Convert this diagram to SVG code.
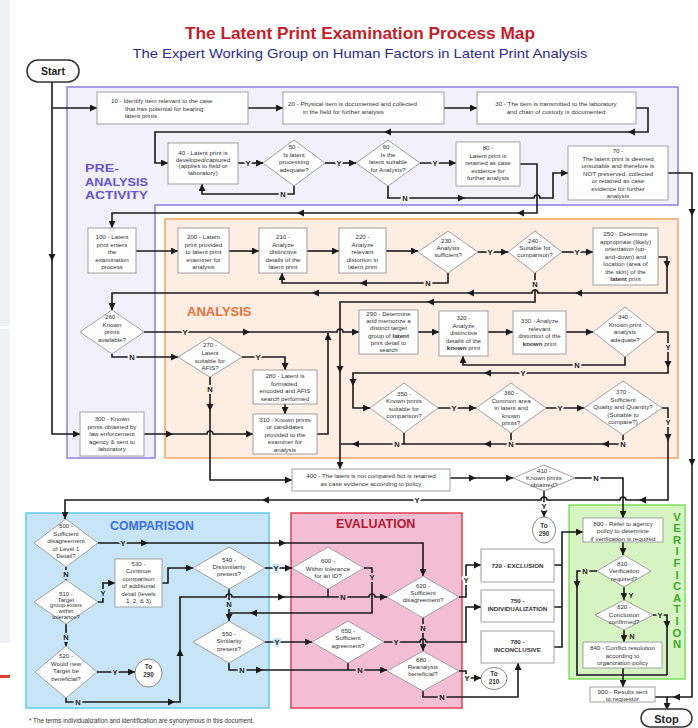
<svg xmlns="http://www.w3.org/2000/svg" width="698" height="728" viewBox="0 0 698 728">
<style>
text{font-family:"Liberation Sans",Arial,sans-serif}
.t{font-size:6.2px;fill:#333;text-anchor:middle}
.k{font-weight:bold}
.b{fill:#fff;stroke:#a0a0a0;stroke-width:1}
.c{fill:none;stroke:#1a1a1a;stroke-width:1.6}
.ce{fill:none;stroke:#1a1a1a;stroke-width:1.6;marker-end:url(#m)}
.lb{font-size:7.5px;font-weight:bold;fill:#1a1a1a;text-anchor:middle;paint-order:stroke;stroke-width:4px;stroke-linejoin:round}
.bw{stroke:#fff}.bp{stroke:#f1f0fb}.ba{stroke:#fdede2}.bc{stroke:#c8e5f7}.be{stroke:#f3bdd4}.bv{stroke:#d7f5c3}
.ct{font-size:6.4px;font-weight:bold;fill:#333;text-anchor:middle}
.term{fill:#fff;stroke:#333;stroke-width:1.6}
.vl{font-size:11.3px;font-weight:bold;fill:#3daa2e;text-anchor:middle}
.pa{font-size:11.6px;font-weight:bold;fill:#6655cc}
</style>
<defs>
<marker id="m" viewBox="0 0 10 10" refX="10" refY="5" markerWidth="7" markerHeight="7" markerUnits="userSpaceOnUse" orient="auto"><path d="M0,0L10,5L0,10z" fill="#1a1a1a"/></marker>
<path id="ar" d="M0,0L-7,-3.5L-7,3.5z" fill="#1a1a1a"/>
</defs>
<rect width="698" height="728" fill="#fff"/>
<rect x="0" y="0" width="10" height="643" fill="#eef1f5"/>
<rect x="0" y="326" width="10" height="3" fill="#fff"/>
<rect x="0" y="675" width="10" height="3" fill="#e04030"/>

<text x="360" y="39" text-anchor="middle" font-size="17" font-weight="bold" fill="#c41e2a" textLength="350" lengthAdjust="spacingAndGlyphs">The Latent Print Examination Process Map</text>
<text x="360" y="58" text-anchor="middle" font-size="13.5" fill="#2b2b8c" textLength="455" lengthAdjust="spacingAndGlyphs">The Expert Working Group on Human Factors in Latent Print Analysis</text>

<g id="regions">
<polygon points="67,87 678,87 678,205 155,205 155,458 67,458" fill="#f1f0fb" stroke="#8b80df" stroke-width="1.5"/>
<rect x="165" y="219" width="513" height="239" fill="#fdede2" stroke="#f2a466" stroke-width="1.5"/>
<rect x="26" y="513" width="243" height="195" fill="#c8e5f7" stroke="#62cbea" stroke-width="1.5"/>
<rect x="291" y="513" width="171" height="195" fill="#f3bdd4" stroke="#e5404c" stroke-width="1.5"/>
<rect x="569" y="505" width="116" height="174" fill="#d7f5c3" stroke="#7fe05a" stroke-width="1.5"/>
<text class="pa" x="85" y="172" textLength="34" lengthAdjust="spacingAndGlyphs">PRE-</text>
<text class="pa" x="85" y="185.5" textLength="63" lengthAdjust="spacingAndGlyphs">ANALYSIS</text>
<text class="pa" x="85" y="199" textLength="63" lengthAdjust="spacingAndGlyphs">ACTIVITY</text>
<text x="187" y="316" font-size="13" font-weight="bold" fill="#e8703a">ANALYSIS</text>
<text x="110" y="530" font-size="12.3" font-weight="bold" fill="#3a6fe0">COMPARISON</text>
<text x="336" y="528" font-size="12.5" font-weight="bold" fill="#b01830">EVALUATION</text>
<text class="vl" x="677" y="520.5">V</text>
<text class="vl" x="677" y="532.1">E</text>
<text class="vl" x="677" y="543.7">R</text>
<text class="vl" x="677" y="555.3">I</text>
<text class="vl" x="677" y="566.9">F</text>
<text class="vl" x="677" y="578.5">I</text>
<text class="vl" x="677" y="590.1">C</text>
<text class="vl" x="677" y="601.7">A</text>
<text class="vl" x="677" y="613.3">T</text>
<text class="vl" x="677" y="624.9">I</text>
<text class="vl" x="677" y="636.5">O</text>
<text class="vl" x="677" y="648.1">N</text>
</g>

<g id="connectors">
<path class="ce" d="M52,82V434H80"/>
<path class="ce" d="M52,108H97"/>
<path class="ce" d="M248,108H283"/>
<path class="ce" d="M444,108H477"/>
<path class="ce" d="M636,108H648V132H155V163H168"/>
<path class="ce" d="M238,163H263"/>
<path class="ce" d="M325,163H356"/>
<path class="ce" d="M420,163H456"/>
<path class="ce" d="M294,186V194H202V184"/>
<path class="ce" d="M388,186V198H534a3,3 0 0 1 6,0H553V173H568"/>
<path class="ce" d="M520,164H537V213H112V228"/>
<path class="c" d="M668,173H692V697H667"/>
<path class="ce" d="M655,697H667V710"/>
<path class="ce" d="M136,251H178"/>
<path class="ce" d="M229,251H259"/>
<path class="ce" d="M307,251H339"/>
<path class="ce" d="M386,251H418"/>
<path class="ce" d="M448,273V283H282V273"/>
<path class="ce" d="M478,252H508"/>
<path class="ce" d="M562,252H593"/>
<path class="ce" d="M658,257H667V293H538a3,3 0 0 0 -6,0H112V310"/>
<path class="ce" d="M535,273V302H340V469"/>
<path class="ce" d="M144,332H337a3,3 0 0 1 6,0H359"/>
<path class="ce" d="M112,354V357H178"/>
<path class="ce" d="M242,357H285V370"/>
<path class="ce" d="M210,377V480H292"/>
<path class="ce" d="M285,404V414"/>
<path class="ce" d="M144,434H207a3,3 0 0 1 6,0H253"/>
<path class="ce" d="M317,434H328V333"/>
<path class="ce" d="M418,332H439"/>
<path class="ce" d="M488,332H513"/>
<path class="ce" d="M566,332H593"/>
<path class="ce" d="M625,357V365H463V356"/>
<path class="ce" d="M657,332H668V373H353V408H370"/>
<path class="ce" d="M438,408H476"/>
<path class="ce" d="M546,408H584"/>
<path class="c" d="M623,435V444H340"/>
<path class="c" d="M511,433V444"/>
<path class="c" d="M404,433V444"/>
<path class="ce" d="M662,408H668V500H626a3,3 0 0 0 -6,0H547a3,3 0 0 0 -6,0H65V519"/>
<path class="ce" d="M450,478H513"/>
<path class="ce" d="M575,478H623V518"/>
<path class="ce" d="M544,491V517"/>
<path class="ce" d="M98,543H423V576"/>
<path class="ce" d="M66,567V580"/>
<path class="ce" d="M98,602H103V583H115"/>
<path class="ce" d="M66,624V646"/>
<path class="ce" d="M97,672H135"/>
<path class="ce" d="M162,583H168V568H193"/>
<path class="ce" d="M265,568H292"/>
<path class="ce" d="M229,589V621"/>
<path class="c" d="M364,568H372V613H229"/>
<path class="ce" d="M66,698V702H180V597H226a3,3 0 0 1 6,0H369a3,3 0 0 1 6,0H387"/>
<path class="c" d="M328,589V597"/>
<path class="ce" d="M265,642H312"/>
<path class="ce" d="M229,663V670H387"/>
<path class="c" d="M348,663V670"/>
<path class="ce" d="M384,642H420a3,3 0 0 1 6,0H466V607H481"/>
<path class="ce" d="M459,597H466V565H481"/>
<path class="ce" d="M423,618V651"/>
<path class="ce" d="M459,671H466V678H481"/>
<path class="ce" d="M423,691V697H518V663"/>
<path class="c" d="M554,565H562M554,607H562"/>
<path class="ce" d="M554,647H562V532H583"/>
<path class="ce" d="M623,542V555"/>
<path class="c" d="M597,571H577V675H667"/>
<path class="ce" d="M624,587V600"/>
<path class="c" d="M653,615H667V675"/>
<path class="ce" d="M624,630V642"/>
<path class="ce" d="M623,668V687"/>

<use href="#ar" transform="translate(52,261) rotate(90)"/>
<use href="#ar" transform="translate(628,132) rotate(180)"/>
<use href="#ar" transform="translate(384,132) rotate(180)"/>
<use href="#ar" transform="translate(465,198)"/>
<use href="#ar" transform="translate(517,213) rotate(180)"/>
<use href="#ar" transform="translate(297,213) rotate(180)"/>
<use href="#ar" transform="translate(692,216) rotate(90)"/>
<use href="#ar" transform="translate(692,466) rotate(90)"/>
<use href="#ar" transform="translate(673,697) rotate(180)"/>
<use href="#ar" transform="translate(360,283) rotate(180)"/>
<use href="#ar" transform="translate(667,268) rotate(90)"/>
<use href="#ar" transform="translate(575,293) rotate(180)"/>
<use href="#ar" transform="translate(467,293) rotate(180)"/>
<use href="#ar" transform="translate(312,293) rotate(180)"/>
<use href="#ar" transform="translate(427,302) rotate(180)"/>
<use href="#ar" transform="translate(340,373) rotate(90)"/>
<use href="#ar" transform="translate(250,332)"/>
<use href="#ar" transform="translate(210,411) rotate(90)"/>
<use href="#ar" transform="translate(173,434)"/>
<use href="#ar" transform="translate(668,368) rotate(90)"/>
<use href="#ar" transform="translate(484,373) rotate(180)"/>
<use href="#ar" transform="translate(353,386) rotate(90)"/>
<use href="#ar" transform="translate(602,444) rotate(180)"/>
<use href="#ar" transform="translate(484,444) rotate(180)"/>
<use href="#ar" transform="translate(352,444) rotate(180)"/>
<use href="#ar" transform="translate(668,441) rotate(90)"/>
<use href="#ar" transform="translate(639,500) rotate(180)"/>
<use href="#ar" transform="translate(262,500) rotate(180)"/>
<use href="#ar" transform="translate(476,478)"/>
<use href="#ar" transform="translate(148,543)"/>
<use href="#ar" transform="translate(286,543)"/>
<use href="#ar" transform="translate(250,613) rotate(180)"/>
<use href="#ar" transform="translate(175,702)"/>
<use href="#ar" transform="translate(180,649) rotate(-90)"/>
<use href="#ar" transform="translate(285,597)"/>
<use href="#ar" transform="translate(263,670)"/>
<use href="#ar" transform="translate(577,588) rotate(90)"/>
<use href="#ar" transform="translate(667,628) rotate(90)"/>

<text class="lb bp" x="248" y="165.6">Y</text>
<text class="lb bp" x="339" y="165.6">Y</text>
<text class="lb bp" x="435" y="165.6">Y</text>
<text class="lb bp" x="283" y="196.6">N</text>
<text class="lb bp" x="405" y="200.6">N</text>
<text class="lb ba" x="428" y="285.6">N</text>
<text class="lb ba" x="490" y="254.6">Y</text>
<text class="lb ba" x="577" y="254.6">Y</text>
<text class="lb ba" x="535" y="286.7">N</text>
<text class="lb ba" x="185" y="334.6">Y</text>
<text class="lb bp" x="132" y="359.6">N</text>
<text class="lb ba" x="258" y="359.6">Y</text>
<text class="lb ba" x="210" y="391.7">N</text>
<text class="lb ba" x="577" y="367.6">N</text>
<text class="lb ba" x="668" y="349.7">Y</text>
<text class="lb ba" x="523" y="375.6">Y</text>
<text class="lb ba" x="454" y="410.6">Y</text>
<text class="lb ba" x="560" y="410.6">Y</text>
<text class="lb ba" x="397" y="446.6">N</text>
<text class="lb ba" x="511" y="446.6">N</text>
<text class="lb ba" x="623" y="446.6">N</text>
<text class="lb ba" x="668" y="424.7">Y</text>
<text class="lb bw" x="417" y="502.6">Y</text>
<text class="lb bw" x="596" y="480.6">N</text>
<text class="lb bw" x="544" y="508.7">Y</text>
<text class="lb bc" x="123" y="545.6">Y</text>
<text class="lb bc" x="66" y="576.7">N</text>
<text class="lb bc" x="103" y="595.7">Y</text>
<text class="lb bc" x="66" y="639.7">N</text>
<text class="lb bc" x="115" y="674.6">Y</text>
<text class="lb bc" x="78" y="704.6">N</text>
<text class="lb bc" x="229" y="606.7">N</text>
<text class="lb bc" x="276" y="570.6">Y</text>
<text class="lb bc" x="277" y="644.6">Y</text>
<text class="lb bc" x="242" y="672.6">N</text>
<text class="lb be" x="372" y="579.7">Y</text>
<text class="lb be" x="343" y="599.6">N</text>
<text class="lb be" x="396" y="644.6">Y</text>
<text class="lb be" x="360" y="672.6">N</text>
<text class="lb be" x="423" y="630.7">N</text>
<text class="lb be" x="442" y="699.6">N</text>
<text class="lb bw" x="466" y="582.7">Y</text>
<text class="lb bw" x="467" y="680.6">Y</text>
<text class="lb bv" x="585" y="573.6">N</text>
<text class="lb bv" x="631" y="597.7">Y</text>
<text class="lb bv" x="660" y="617.6">Y</text>
<text class="lb bv" x="632" y="638.7">N</text>
</g>

<g id="start"><rect class="term" x="27" y="60" width="52" height="22" rx="11"/><text x="53" y="75" text-anchor="middle" font-size="10.5" font-weight="bold" fill="#222">Start</text></g>
<g id="stop"><rect class="term" x="641" y="709" width="51" height="18" rx="9"/><text x="666.5" y="722.5" text-anchor="middle" font-size="11" font-weight="bold" fill="#222">Stop</text></g>

<g id="n10"><rect class="b" x="97" y="92" width="151" height="32"/><text class="t" style="text-anchor:start"><tspan x="111" y="103">10 - Identify item relevant to the case</tspan><tspan x="125" y="110.5">that has potential for bearing</tspan><tspan x="125" y="118">latent prints</tspan></text></g>
<g id="n20"><rect class="b" x="283" y="92" width="161" height="32"/><text class="t" style="text-anchor:start"><tspan x="288" y="106">20 - Physical item is documented and collected</tspan><tspan x="303" y="113.5">in the field for further analysis</tspan></text></g>
<g id="n30"><rect class="b" x="477" y="92" width="159" height="32"/><text class="t"><tspan x="556" y="106">30 - The item is transmitted to the laboratory</tspan><tspan x="556" y="113.5">and chain of custody is documented</tspan></text></g>
<g id="n40"><rect class="b" x="168" y="143" width="70" height="41"/><text class="t"><tspan x="203" y="155">40 - Latent print is</tspan><tspan x="203" y="161.5">developed/captured</tspan><tspan x="203" y="168">(applies to field or</tspan><tspan x="203" y="174.5">laboratory)</tspan></text></g>
<g id="n50"><polygon class="b" points="294,140 325,163 294,186 263,163"/><text class="t"><tspan x="294" y="149">50 -</tspan><tspan x="294" y="156.5">Is latent</tspan><tspan x="294" y="164">processing</tspan><tspan x="294" y="171.5">adequate?</tspan></text></g>
<g id="n60"><polygon class="b" points="388,140 420,163 388,186 356,163"/><text class="t"><tspan x="388" y="149">60 -</tspan><tspan x="388" y="156.5">Is the</tspan><tspan x="388" y="164">latent suitable</tspan><tspan x="388" y="171.5">for Analysis?</tspan></text></g>
<g id="n80"><rect class="b" x="456" y="142" width="64" height="44"/><text class="t"><tspan x="488" y="150">80 -</tspan><tspan x="488" y="157.5">Latent print is</tspan><tspan x="488" y="165">retained as case</tspan><tspan x="488" y="172.5">evidence for</tspan><tspan x="488" y="180">further analysis</tspan></text></g>
<g id="n70"><rect class="b" x="568" y="146" width="100" height="54"/><text class="t"><tspan x="618" y="153">70 -</tspan><tspan x="618" y="160.5">The latent print is deemed</tspan><tspan x="618" y="168">unsuitable and therefore is</tspan><tspan x="618" y="175.5">NOT preserved, collected</tspan><tspan x="618" y="183">or retained as case</tspan><tspan x="618" y="190.5">evidence for further</tspan><tspan x="618" y="198">analysis</tspan></text></g>
<g id="n100"><rect class="b" x="88" y="228" width="48" height="45"/><text class="t"><tspan x="112" y="239">100 - Latent</tspan><tspan x="112" y="246.5">print enters</tspan><tspan x="112" y="254">the</tspan><tspan x="112" y="261.5">examination</tspan><tspan x="112" y="269">process</tspan></text></g>
<g id="n200"><rect class="b" x="178" y="228" width="51" height="45"/><text class="t"><tspan x="203.5" y="239">200 - Latent</tspan><tspan x="203.5" y="246.5">print provided</tspan><tspan x="203.5" y="254">to latent print</tspan><tspan x="203.5" y="261.5">examiner for</tspan><tspan x="203.5" y="269">analysis</tspan></text></g>
<g id="n210"><rect class="b" x="259" y="228" width="48" height="45"/><text class="t"><tspan x="283" y="239">210 -</tspan><tspan x="283" y="246.5">Analyze</tspan><tspan x="283" y="254">distinctive</tspan><tspan x="283" y="261.5">details of the</tspan><tspan x="283" y="269">latent print</tspan></text></g>
<g id="n220"><rect class="b" x="339" y="228" width="47" height="45"/><text class="t"><tspan x="362.5" y="239">220 -</tspan><tspan x="362.5" y="246.5">Analyze</tspan><tspan x="362.5" y="254">relevant</tspan><tspan x="362.5" y="261.5">distortion in</tspan><tspan x="362.5" y="269">latent print</tspan></text></g>
<g id="n230"><polygon class="b" points="448,231 478,252 448,273 418,252"/><text class="t"><tspan x="448" y="243">230 -</tspan><tspan x="448" y="250">Analysis</tspan><tspan x="448" y="257">sufficient?</tspan></text></g>
<g id="n240"><polygon class="b" points="535,231 562,252 535,273 508,252"/><text class="t"><tspan x="535" y="242.5">240 -</tspan><tspan x="535" y="249.7">Suitable for</tspan><tspan x="535" y="257">comparison?</tspan></text></g>
<g id="n250"><rect class="b" x="593" y="228" width="65" height="57"/><text class="t"><tspan x="625.5" y="236">250 - Determine</tspan><tspan x="625.5" y="243.5">appropriate (likely)</tspan><tspan x="625.5" y="251">orientation (up-</tspan><tspan x="625.5" y="258.5">and-down) and</tspan><tspan x="625.5" y="266">location (area of</tspan><tspan x="625.5" y="273.5">the skin) of the</tspan><tspan x="625.5" y="281"><tspan class="k">latent</tspan> print</tspan></text></g>
<g id="n260"><polygon class="b" points="112,310 144,332 112,354 80,332"/><text class="t"><tspan x="112" y="319">260 -</tspan><tspan x="112" y="326.5">Known</tspan><tspan x="112" y="334">prints</tspan><tspan x="112" y="341.5">available?</tspan></text></g>
<g id="n270"><polygon class="b" points="210,337 242,357 210,377 178,357"/><text class="t"><tspan x="210" y="347">270 -</tspan><tspan x="210" y="355">Latent</tspan><tspan x="210" y="362.5">suitable for</tspan><tspan x="210" y="370">AFIS?</tspan></text></g>
<g id="n280"><rect class="b" x="253" y="370" width="64" height="34"/><text class="t"><tspan x="285" y="378">280 - Latent is</tspan><tspan x="285" y="385.5">formatted,</tspan><tspan x="285" y="393">encoded and AFIS</tspan><tspan x="285" y="400.5">search performed</tspan></text></g>
<g id="n290"><rect class="b" x="359" y="310" width="59" height="44"/><text class="t"><tspan x="388.5" y="316">290 - Determine</tspan><tspan x="388.5" y="323.2">and memorize a</tspan><tspan x="388.5" y="330.4">distinct target</tspan><tspan x="388.5" y="337.6">group of <tspan class="k">latent</tspan></tspan><tspan x="388.5" y="344.8">print detail to</tspan><tspan x="388.5" y="352">search</tspan></text></g>
<g id="n300"><rect class="b" x="80" y="412" width="64" height="44"/><text class="t"><tspan x="112" y="421">300 - Known</tspan><tspan x="112" y="428.5">prints obtained by</tspan><tspan x="112" y="436">law enforcement</tspan><tspan x="112" y="443.5">agency &amp; sent to</tspan><tspan x="112" y="451">laboratory</tspan></text></g>
<g id="n310"><rect class="b" x="253" y="414" width="64" height="40"/><text class="t"><tspan x="285" y="421.5">310 - Known prints</tspan><tspan x="285" y="429">or candidates</tspan><tspan x="285" y="436.5">provided to the</tspan><tspan x="285" y="444">examiner for</tspan><tspan x="285" y="451.5">analysis</tspan></text></g>
<g id="n320"><rect class="b" x="439" y="311" width="49" height="45"/><text class="t"><tspan x="463.5" y="320">320 -</tspan><tspan x="463.5" y="327.5">Analyze</tspan><tspan x="463.5" y="335">distinctive</tspan><tspan x="463.5" y="342.5">details of the</tspan><tspan x="463.5" y="350"><tspan class="k">known</tspan> print</tspan></text></g>
<g id="n330"><rect class="b" x="513" y="311" width="53" height="43"/><text class="t"><tspan x="539.5" y="323">330 - Analyze</tspan><tspan x="539.5" y="330.5">relevant</tspan><tspan x="539.5" y="338">distortion of the</tspan><tspan x="539.5" y="345.5"><tspan class="k">known</tspan> print</tspan></text></g>
<g id="n340"><polygon class="b" points="625,307 657,332 625,357 593,332"/><text class="t"><tspan x="625" y="319">340 -</tspan><tspan x="625" y="326.5">Known print</tspan><tspan x="625" y="334">analysis</tspan><tspan x="625" y="341.5">adequate?</tspan></text></g>
<g id="n350"><polygon class="b" points="404,383 438,408 404,433 370,408"/><text class="t"><tspan x="404" y="395.5">350 -</tspan><tspan x="404" y="403">Known prints</tspan><tspan x="404" y="410.5">suitable for</tspan><tspan x="404" y="418">comparison?</tspan></text></g>
<g id="n360"><polygon class="b" points="511,383 546,408 511,433 476,408"/><text class="t"><tspan x="511" y="395">360 -</tspan><tspan x="511" y="402.5">Common area</tspan><tspan x="511" y="410">in latent and</tspan><tspan x="511" y="417.5">known</tspan><tspan x="511" y="425">prints?</tspan></text></g>
<g id="n370"><polygon class="b" points="623,381 662,408 623,435 584,408"/><text class="t"><tspan x="623" y="394">370 -</tspan><tspan x="623" y="401.5">Sufficient</tspan><tspan x="623" y="409">Quality and Quantity?</tspan><tspan x="623" y="416.5">(Suitable to</tspan><tspan x="623" y="424">compare?)</tspan></text></g>
<g id="n400"><rect class="b" x="292" y="469" width="158" height="22"/><text class="t"><tspan x="371" y="478">400 - The latent is not compared but is retained</tspan><tspan x="371" y="486">as case evidence according to policy</tspan></text></g>
<g id="n410"><polygon class="b" points="544,465 575,478 544,491 513,478"/><text class="t"><tspan x="544" y="472.5">410 -</tspan><tspan x="544" y="479.8">Known prints</tspan><tspan x="544" y="487">obtained?</tspan></text></g>
<g id="n500"><polygon class="b" points="66,519 98,543 66,567 34,543"/><text class="t"><tspan x="66" y="528">500 -</tspan><tspan x="66" y="535.5">Sufficient</tspan><tspan x="66" y="543">disagreement</tspan><tspan x="66" y="550.5">of Level 1</tspan><tspan x="66" y="558">Detail?</tspan></text></g>
<g id="n510"><polygon class="b" points="66,580 98,602 66,624 34,602"/><text class="t" style="font-size:5.9px"><tspan x="66" y="596">510 -</tspan><tspan x="66" y="601.7">Target</tspan><tspan x="66" y="607.4">group exists</tspan><tspan x="66" y="613.1">within</tspan><tspan x="66" y="618.8">tolerance?</tspan></text></g>
<g id="n520"><polygon class="b" points="66,646 97,672 66,698 35,672"/><text class="t"><tspan x="66" y="658">520 -</tspan><tspan x="66" y="665.5">Would new</tspan><tspan x="66" y="673">Target be</tspan><tspan x="66" y="680.5">beneficial?</tspan></text></g>
<g id="to290a"><ellipse cx="148.5" cy="673" rx="13.5" ry="14" fill="#fff" stroke="#888" stroke-width="1"/><text class="ct"><tspan x="148.5" y="669">To</tspan><tspan x="148.5" y="677">290</tspan></text></g>
<g id="n530"><rect class="b" x="115" y="559" width="47" height="48"/><text class="t"><tspan x="138.5" y="565.5">530 -</tspan><tspan x="138.5" y="573">Continue</tspan><tspan x="138.5" y="580.5">comparison</tspan><tspan x="138.5" y="588">of additional</tspan><tspan x="138.5" y="595.5">detail (levels</tspan><tspan x="138.5" y="603">1, 2, &amp; 3)</tspan></text></g>
<g id="n540"><polygon class="b" points="229,547 265,568 229,589 193,568"/><text class="t"><tspan x="229" y="562">540 -</tspan><tspan x="229" y="569">Dissimilarity</tspan><tspan x="229" y="576">present?</tspan></text></g>
<g id="n550"><polygon class="b" points="229,621 265,642 229,663 193,642"/><text class="t"><tspan x="229" y="635.5">550 -</tspan><tspan x="229" y="643">Similarity</tspan><tspan x="229" y="650.5">present?</tspan></text></g>
<g id="n600"><polygon class="b" points="328,547 364,568 328,589 292,568"/><text class="t"><tspan x="328" y="563">600 -</tspan><tspan x="328" y="570.5">Within tolerance</tspan><tspan x="328" y="577.5">for an ID?</tspan></text></g>
<g id="n620"><polygon class="b" points="423,576 459,597 423,618 387,597"/><text class="t"><tspan x="423" y="588">620 -</tspan><tspan x="423" y="595">Sufficient</tspan><tspan x="423" y="602">disagreement?</tspan></text></g>
<g id="n650"><polygon class="b" points="348,621 384,642 348,663 312,642"/><text class="t"><tspan x="348" y="633">650 -</tspan><tspan x="348" y="640">Sufficient</tspan><tspan x="348" y="647.5">agreement?</tspan></text></g>
<g id="n680"><polygon class="b" points="423,651 459,671 423,691 387,671"/><text class="t"><tspan x="423" y="662">680 -</tspan><tspan x="423" y="669">Reanalysis</tspan><tspan x="423" y="676">beneficial?</tspan></text></g>
<g id="n720"><rect class="b" x="481" y="549" width="73" height="33"/><text class="t k" x="517.5" y="567.5">720 - EXCLUSION</text></g>
<g id="n750"><rect class="b" x="481" y="590" width="73" height="32"/><text class="t k"><tspan x="517.5" y="603">750 -</tspan><tspan x="517.5" y="611">INDIVIDUALIZATION</tspan></text></g>
<g id="n780"><rect class="b" x="481" y="631" width="73" height="32"/><text class="t k"><tspan x="517.5" y="644">780 -</tspan><tspan x="517.5" y="652">INCONCLUSIVE</tspan></text></g>
<g id="to290b"><ellipse cx="544" cy="530" rx="11.5" ry="13" fill="#fff" stroke="#888" stroke-width="1"/><text class="ct"><tspan x="544" y="528">To</tspan><tspan x="544" y="536">290</tspan></text></g>
<g id="to210"><ellipse cx="494" cy="678.5" rx="13" ry="11" fill="#fff" stroke="#888" stroke-width="1"/><text class="ct"><tspan x="494" y="676">To</tspan><tspan x="494" y="684">210</tspan></text></g>
<g id="n800"><rect class="b" x="583" y="518" width="80" height="24"/><text class="t"><tspan x="623" y="526">800 - Refer to agency</tspan><tspan x="623" y="533">policy to determine</tspan><tspan x="623" y="540.5">if verification is required</tspan></text></g>
<g id="n810"><polygon class="b" points="624,555 651,571 624,587 597,571"/><text class="t"><tspan x="624" y="565.5">810 -</tspan><tspan x="624" y="573">Verification</tspan><tspan x="624" y="580.5">required?</tspan></text></g>
<g id="n820"><polygon class="b" points="624,600 653,615 624,630 595,615"/><text class="t"><tspan x="624" y="609">820 -</tspan><tspan x="624" y="616.5">Conclusion</tspan><tspan x="624" y="624">confirmed?</tspan></text></g>
<g id="n840"><rect class="b" x="583" y="642" width="79" height="26"/><text class="t"><tspan x="622.5" y="650">840 - Conflict resolution</tspan><tspan x="622.5" y="657.5">according to</tspan><tspan x="622.5" y="665">organization policy</tspan></text></g>
<g id="n900"><rect class="b" x="590" y="687" width="65" height="15"/><text class="t"><tspan x="622.5" y="693.5">900 - Results sent</tspan><tspan x="622.5" y="700.5">to requestor</tspan></text></g>

<text x="29" y="723" font-size="6.3" fill="#333">* The terms individualization and identification are synonymous in this document.</text>
</svg>
